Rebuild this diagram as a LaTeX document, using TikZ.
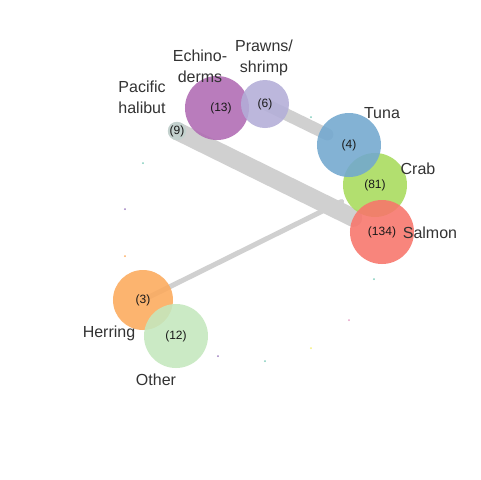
\documentclass[tikz,border=0pt]{standalone}
\usepackage{fontspec}
\setmainfont{Liberation Sans}
\definecolor{edgegray}{HTML}{D0D0D0}
\definecolor{labgray}{HTML}{333333}
\definecolor{cHal}{HTML}{C2D2CE}
\definecolor{cEch}{HTML}{B06BB3}
\definecolor{cPra}{HTML}{B3AED8}
\definecolor{cTun}{HTML}{72A8CF}
\definecolor{cCra}{HTML}{A8DB5C}
\definecolor{cSal}{HTML}{F8756B}
\definecolor{cHer}{HTML}{FCAA5C}
\definecolor{cOth}{HTML}{C4E8BE}
\definecolor{dTeal}{HTML}{7FCDBB}
\definecolor{dPur}{HTML}{9E7FC0}
\definecolor{dOra}{HTML}{FDAE61}
\definecolor{dPink}{HTML}{E7A0C8}
\definecolor{dYel}{HTML}{F5F07A}
\begin{document}
\begin{tikzpicture}[x=0.75pt,y=-0.75pt,
  bubble/.style={circle,inner sep=0pt,fill opacity=0.88,text opacity=1,
    font=\fontsize{9}{10}\selectfont,text=black!90},
  lab/.style={font=\fontsize{12}{15.75}\selectfont,text=labgray,align=center,inner sep=0pt},
  link/.style={draw=edgegray,line cap=round},
  speck/.style={circle,inner sep=0pt,minimum size=1.5pt}]
\useasboundingbox (0,0) rectangle (480,480);
\fill[white] (0,0) rectangle (480,480);
% coordinates of node centres
\coordinate (hal) at (177,131);
\coordinate (sal) at (382,232);
\coordinate (pra) at (265,104);
\coordinate (tun) at (349,145);
\coordinate (her) at (143,300);
\coordinate (cra) at (375,185);
% edges
\draw[link,line width=13.5pt,shorten >=24pt] (hal) -- (sal);
\draw[link,line width=9pt,shorten >=18pt] (pra) -- (tun);
\draw[link,line width=3.75pt,shorten >=28pt] (her) -- (cra);
% nodes
\node[bubble,fill=cHal,minimum size=12pt] (nhal) at (hal) {(9)};
\node[bubble,fill=cEch,minimum size=48pt] (nech) at (217,108) {\hspace{6pt}(13)};
\node[bubble,fill=cPra,minimum size=36pt] (npra) at (pra) {(6)};
\node[bubble,fill=cCra,minimum size=48pt] (ncra) at (cra) {(81)};
\node[bubble,fill=cTun,minimum size=48pt] (ntun) at (tun) {(4)};
\node[bubble,fill=cSal,minimum size=48pt] (nsal) at (sal) {(134)};
\node[bubble,fill=cHer,minimum size=45pt] (nher) at (her) {(3)};
\node[bubble,fill=cOth,minimum size=48pt] (noth) at (176,336) {(12)};
% labels
\node[lab] (lhal) at (142,97) {Pacific\\halibut};
\node[lab] (lech) at (200,66) {Echino-\\derms};
\node[lab] (lpra) at (264,58) {Prawns/\\shrimp};
\node[lab] (ltun) at (382,113) {Tuna};
\node[lab] (lcra) at (418,169) {Crab};
\node[lab] (lsal) at (430,233) {Salmon};
\node[lab] (lher) at (109,333) {Herring};
\node[lab] (loth) at (156,380) {Other};
% specks
\node[speck,fill=dTeal] (s1) at (143,163) {};
\node[speck,fill=dPur] (s2) at (125,209) {};
\node[speck,fill=dOra] (s3) at (125,256) {};
\node[speck,fill=dTeal] (s4) at (311,117) {};
\node[speck,fill=dTeal] (s5) at (374,279) {};
\node[speck,fill=dPink] (s6) at (349,320) {};
\node[speck,fill=dYel] (s7) at (311,348) {};
\node[speck,fill=dPur] (s8) at (218,356) {};
\node[speck,fill=dTeal] (s9) at (265,361) {};
\end{tikzpicture}
\end{document}
